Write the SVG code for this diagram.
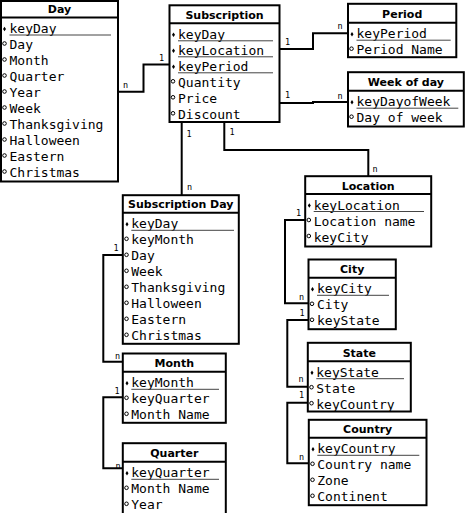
<svg xmlns="http://www.w3.org/2000/svg" width="465" height="513" viewBox="0 0 465 513">
<style>
.box{fill:#fff;stroke:#000;stroke-width:2}
.hl{stroke:#000;stroke-width:2}
.ul{stroke:#444;stroke-width:1}
.h{font-family:"DejaVu Sans",sans-serif;font-weight:bold;font-size:11px;text-anchor:middle;fill:#000}
.t{font-family:"DejaVu Sans Mono",monospace;font-size:13px;fill:#000}
.lb{font-family:"DejaVu Sans Mono",monospace;font-size:8.5px;fill:#000}
.c{fill:none;stroke:#000;stroke-width:2}
</style>
<defs>
<path id="k" d="M0,-2.2 L1.5,0 L0,2.2 L-1.5,0 Z" fill="#000"/>
<circle id="o" r="1.8" fill="#fff" stroke="#000" stroke-width="1"/>
</defs>
<rect width="465" height="513" fill="#fff"/>
<g id="connectors">
<polyline class="c" points="118,91.7 143.5,91.7 143.5,64.5 169.5,64.5"/>
<polyline class="c" points="279.5,49 313,49 313,33.3 348,33.3"/>
<polyline class="c" points="279.5,103 313,103 313,102 348,102"/>
<polyline class="c" points="181.7,122 181.7,195.2"/>
<polyline class="c" points="224.3,122 224.3,150 368.3,150 368.3,176.2"/>
<polyline class="c" points="122.8,255 103.3,255 103.3,361.7 122.8,361.7"/>
<polyline class="c" points="122.8,397.3 103.3,397.3 103.3,468.3 122.8,468.3"/>
<polyline class="c" points="305.2,220 285,220 285,303.3 308.5,303.3"/>
<polyline class="c" points="308.5,320 287.3,320 287.3,386.7 307.8,386.7"/>
<polyline class="c" points="307.8,402.7 287.3,402.7 287.3,463.3 308.8,463.3"/>
<text class="lb" x="123" y="87.5">n</text>
<text class="lb" x="159" y="61">1</text>
<text class="lb" x="285" y="45">1</text>
<text class="lb" x="337.5" y="29">n</text>
<text class="lb" x="285" y="98">1</text>
<text class="lb" x="337.5" y="99">n</text>
<text class="lb" x="186.5" y="136.5">1</text>
<text class="lb" x="187" y="189.5">n</text>
<text class="lb" x="229.5" y="134.5">1</text>
<text class="lb" x="372.5" y="171.5">n</text>
<text class="lb" x="113.5" y="251">1</text>
<text class="lb" x="115" y="358.5">n</text>
<text class="lb" x="114.5" y="394">1</text>
<text class="lb" x="115.5" y="468.5">n</text>
<text class="lb" x="296" y="215.5">1</text>
<text class="lb" x="299" y="299.5">n</text>
<text class="lb" x="299.5" y="315.5">1</text>
<text class="lb" x="298.5" y="381.5">n</text>
<text class="lb" x="299" y="397.5">1</text>
<text class="lb" x="299" y="459.5">n</text>
</g>
<g id="day">
<rect class="box" x="1" y="1" width="117" height="180.5"/>
<line class="hl" x1="1" y1="17.5" x2="118" y2="17.5"/>
<text class="h" x="59.5" y="13">Day</text>
<use href="#k" x="4.5" y="29"/>
<text class="t" x="9.5" y="33">keyDay</text>
<line class="ul" x1="9.5" y1="35" x2="111" y2="35"/>
<use href="#o" x="4.5" y="43.5"/><text class="t" x="9.5" y="49">Day</text>
<use href="#o" x="4.5" y="59.5"/><text class="t" x="9.5" y="65">Month</text>
<use href="#o" x="4.5" y="75.5"/><text class="t" x="9.5" y="81">Quarter</text>
<use href="#o" x="4.5" y="91.5"/><text class="t" x="9.5" y="97">Year</text>
<use href="#o" x="4.5" y="107.5"/><text class="t" x="9.5" y="113">Week</text>
<use href="#o" x="4.5" y="123.5"/><text class="t" x="9.5" y="129">Thanksgiving</text>
<use href="#o" x="4.5" y="139.5"/><text class="t" x="9.5" y="145">Halloween</text>
<use href="#o" x="4.5" y="155.5"/><text class="t" x="9.5" y="161">Eastern</text>
<use href="#o" x="4.5" y="171.5"/><text class="t" x="9.5" y="177">Christmas</text>
</g>
<g id="subscription">
<rect class="box" x="169.5" y="5.3" width="110" height="116.7"/>
<line class="hl" x1="169.5" y1="23.3" x2="279.5" y2="23.3"/>
<text class="h" x="224.5" y="18.8">Subscription</text>
<use href="#k" x="173.5" y="34.8"/><text class="t" x="178" y="38.8">keyDay</text>
<line class="ul" x1="178" y1="40.8" x2="273" y2="40.8"/>
<use href="#k" x="173.5" y="50.8"/><text class="t" x="178" y="54.8">keyLocation</text>
<line class="ul" x1="178" y1="56.8" x2="273" y2="56.8"/>
<use href="#k" x="173.5" y="66.8"/><text class="t" x="178" y="70.8">keyPeriod</text>
<line class="ul" x1="178" y1="72.8" x2="273" y2="72.8"/>
<use href="#o" x="173" y="81.3"/><text class="t" x="178" y="86.8">Quantity</text>
<use href="#o" x="173" y="97.3"/><text class="t" x="178" y="102.8">Price</text>
<use href="#o" x="173" y="113.3"/><text class="t" x="178" y="118.8">Discount</text>
</g>
<g id="period">
<rect class="box" x="348" y="3.8" width="108.3" height="53.4"/>
<line class="hl" x1="348" y1="22.7" x2="456.3" y2="22.7"/>
<text class="h" x="402.2" y="18.2">Period</text>
<use href="#k" x="352" y="34.2"/><text class="t" x="356.5" y="38.2">keyPeriod</text>
<line class="ul" x1="356.5" y1="40.2" x2="450.7" y2="40.2"/>
<use href="#o" x="351.5" y="48.7"/><text class="t" x="356.5" y="54.2">Period Name</text>
</g>
<g id="weekofday">
<rect class="box" x="348" y="72.2" width="115.8" height="54.3"/>
<line class="hl" x1="348" y1="90.7" x2="463.8" y2="90.7"/>
<text class="h" x="405.9" y="86.2">Week of day</text>
<use href="#k" x="352" y="102.2"/><text class="t" x="356.5" y="106.2">keyDayofWeek</text>
<line class="ul" x1="356.5" y1="108.2" x2="458.3" y2="108.2"/>
<use href="#o" x="351.5" y="116.7"/><text class="t" x="356.5" y="122.2">Day of week</text>
</g>
<g id="subscriptionday">
<rect class="box" x="122.8" y="195.2" width="116" height="148.6"/>
<line class="hl" x1="122.8" y1="212.8" x2="238.8" y2="212.8"/>
<text class="h" x="180.8" y="208.3">Subscription Day</text>
<use href="#k" x="127" y="224.3"/><text class="t" x="131.3" y="228.3">keyDay</text>
<line class="ul" x1="131.3" y1="230.3" x2="234" y2="230.3"/>
<use href="#o" x="126.5" y="238.8"/><text class="t" x="131.3" y="244.3">keyMonth</text>
<use href="#o" x="126.5" y="254.8"/><text class="t" x="131.3" y="260.3">Day</text>
<use href="#o" x="126.5" y="270.8"/><text class="t" x="131.3" y="276.3">Week</text>
<use href="#o" x="126.5" y="286.8"/><text class="t" x="131.3" y="292.3">Thanksgiving</text>
<use href="#o" x="126.5" y="302.8"/><text class="t" x="131.3" y="308.3">Halloween</text>
<use href="#o" x="126.5" y="318.8"/><text class="t" x="131.3" y="324.3">Eastern</text>
<use href="#o" x="126.5" y="334.8"/><text class="t" x="131.3" y="340.3">Christmas</text>
</g>
<g id="location">
<rect class="box" x="305.2" y="176.2" width="126" height="70.3"/>
<line class="hl" x1="305.2" y1="194" x2="431.2" y2="194"/>
<text class="h" x="368.2" y="189.5">Location</text>
<use href="#k" x="309.3" y="205.5"/><text class="t" x="313.7" y="209.5">keyLocation</text>
<line class="ul" x1="313.7" y1="211.5" x2="424" y2="211.5"/>
<use href="#o" x="308.8" y="220"/><text class="t" x="313.7" y="225.5">Location name</text>
<use href="#o" x="308.8" y="236"/><text class="t" x="313.7" y="241.5">keyCity</text>
</g>
<g id="city">
<rect class="box" x="308.5" y="259.5" width="87.3" height="69.7"/>
<line class="hl" x1="308.5" y1="277.8" x2="395.8" y2="277.8"/>
<text class="h" x="352.2" y="273.3">City</text>
<use href="#k" x="312.5" y="289.3"/><text class="t" x="317" y="293.3">keyCity</text>
<line class="ul" x1="317" y1="295.3" x2="389" y2="295.3"/>
<use href="#o" x="312" y="303.8"/><text class="t" x="317" y="309.3">City</text>
<use href="#o" x="312" y="319.8"/><text class="t" x="317" y="325.3">keyState</text>
</g>
<g id="month">
<rect class="box" x="122.8" y="353.5" width="103" height="69.3"/>
<line class="hl" x1="122.8" y1="371.8" x2="225.8" y2="371.8"/>
<text class="h" x="174.3" y="367.3">Month</text>
<use href="#k" x="127" y="383.3"/><text class="t" x="131.3" y="387.3">keyMonth</text>
<line class="ul" x1="131.3" y1="389.3" x2="219" y2="389.3"/>
<use href="#o" x="126.5" y="397.8"/><text class="t" x="131.3" y="403.3">keyQuarter</text>
<use href="#o" x="126.5" y="413.8"/><text class="t" x="131.3" y="419.3">Month Name</text>
</g>
<g id="quarter">
<rect class="box" x="122.8" y="443.2" width="103" height="80"/>
<line class="hl" x1="122.8" y1="461.8" x2="225.8" y2="461.8"/>
<text class="h" x="174.3" y="457.3">Quarter</text>
<use href="#k" x="127" y="473.3"/><text class="t" x="131.3" y="477.3">keyQuarter</text>
<line class="ul" x1="131.3" y1="479.3" x2="219" y2="479.3"/>
<use href="#o" x="126.5" y="487.8"/><text class="t" x="131.3" y="493.3">Month Name</text>
<use href="#o" x="126.5" y="503.8"/><text class="t" x="131.3" y="509.3">Year</text>
</g>
<g id="state">
<rect class="box" x="307.8" y="342.8" width="103" height="68.7"/>
<line class="hl" x1="307.8" y1="361.2" x2="410.8" y2="361.2"/>
<text class="h" x="359.3" y="356.7">State</text>
<use href="#k" x="312" y="372.7"/><text class="t" x="316.3" y="376.7">keyState</text>
<line class="ul" x1="316.3" y1="378.7" x2="404" y2="378.7"/>
<use href="#o" x="311.5" y="387.2"/><text class="t" x="316.3" y="392.7">State</text>
<use href="#o" x="311.5" y="403.2"/><text class="t" x="316.3" y="408.7">keyCountry</text>
</g>
<g id="country">
<rect class="box" x="308.8" y="419.8" width="117.7" height="85.4"/>
<line class="hl" x1="308.8" y1="437.8" x2="426.5" y2="437.8"/>
<text class="h" x="367.7" y="433.3">Country</text>
<use href="#k" x="313" y="449.3"/><text class="t" x="317.3" y="453.3">keyCountry</text>
<line class="ul" x1="317.3" y1="455.3" x2="419.3" y2="455.3"/>
<use href="#o" x="312.5" y="463.8"/><text class="t" x="317.3" y="469.3">Country name</text>
<use href="#o" x="312.5" y="479.8"/><text class="t" x="317.3" y="485.3">Zone</text>
<use href="#o" x="312.5" y="495.8"/><text class="t" x="317.3" y="501.3">Continent</text>
</g>
</svg>
